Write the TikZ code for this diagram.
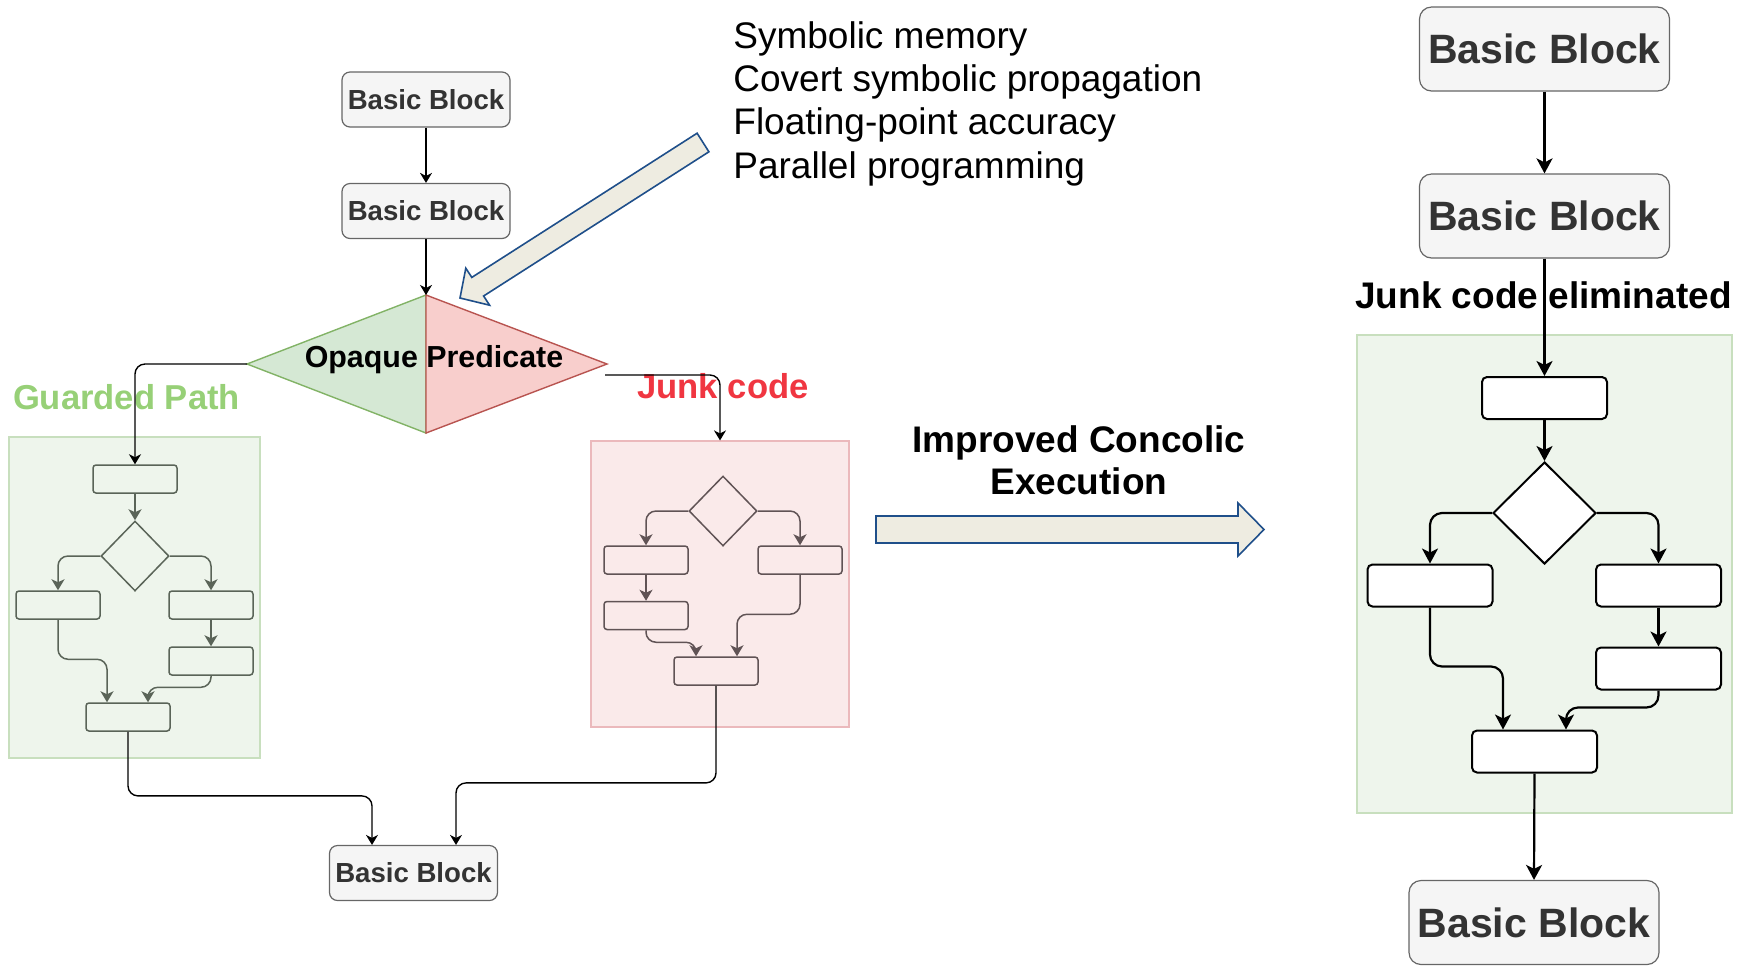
\documentclass[tikz,border=0pt]{standalone}
\usepackage{fontspec}
\setmainfont{Liberation Sans}
\usetikzlibrary{arrows.meta,shapes.geometric,calc}

\definecolor{bbfill}{HTML}{F5F5F5}
\definecolor{bbdraw}{HTML}{666666}
\definecolor{bbtext}{HTML}{333333}
\definecolor{okfill}{HTML}{D5E8D4}
\definecolor{okdraw}{HTML}{82B366}
\definecolor{badfill}{HTML}{F8CECC}
\definecolor{baddraw}{HTML}{B85450}
\definecolor{okpane}{HTML}{EEF5EC}
\definecolor{okpaneline}{HTML}{C8DFBE}
\definecolor{badpane}{HTML}{FAEAEA}
\definecolor{badpaneline}{HTML}{EBB9BC}
\definecolor{okink}{HTML}{5A6458}
\definecolor{badink}{HTML}{605355}
\definecolor{okword}{HTML}{97D077}
\definecolor{badword}{HTML}{F03641}
\definecolor{bigfill}{HTML}{EEECE1}
\definecolor{bigline}{HTML}{1F4F8A}

\begin{document}
\begin{tikzpicture}[x=0.5pt,y=-0.5pt,
  bbsmall/.style={rectangle, rounded corners=4pt, draw=bbdraw, line width=0.6pt,
    fill=bbfill, text=bbtext, minimum width=84pt, minimum height=27.5pt, inner sep=0pt,
    font=\fontsize{13.8}{16}\selectfont\bfseries},
  bbbig/.style={bbsmall, rounded corners=6pt, minimum width=125pt, minimum height=42pt,
    font=\fontsize{20.5}{24}\selectfont\bfseries},
  okbox/.style={rectangle, rounded corners=1.5pt, draw=okink, line width=0.75pt,
    minimum width=42pt, minimum height=14pt, inner sep=0pt},
  okdia/.style={diamond, draw=okink, line width=0.75pt, minimum width=34pt,
    minimum height=35pt, inner sep=0pt},
  badbox/.style={okbox, draw=badink},
  baddia/.style={okdia, draw=badink},
  wbox/.style={rectangle, rounded corners=2.5pt, draw=black, fill=white, line width=1pt,
    minimum width=62.5pt, minimum height=21pt, inner sep=0pt},
  wdia/.style={diamond, draw=black, fill=white, line width=1pt, minimum width=51.5pt,
    minimum height=51pt, inner sep=0pt},
  pane/.style={rectangle, inner sep=0pt, line width=0.6pt},
  conn/.style={draw=black, line width=0.7pt, rounded corners=5pt,
    -{Stealth[length=5pt,width=6pt,inset=1.5pt]}},
  okconn/.style={conn, draw=okink, line width=0.75pt,
    -{Stealth[length=5.5pt,width=6.5pt,inset=1.5pt]}},
  badconn/.style={okconn, draw=badink},
  wconn/.style={draw=black, line width=1.1pt, rounded corners=6pt,
    -{Stealth[length=7.5pt,width=8pt,inset=2pt]}},
  bigarrow/.style={draw=bigline, fill=bigfill, line width=0.8pt, line join=miter},
  txt/.style={inner sep=0pt},
  listfont/.style={font=\fontsize{18.5}{22}\selectfont},
  headfont/.style={font=\fontsize{18.5}{21}\selectfont\bfseries},
]
\useasboundingbox (0,0) rectangle (1746,966);

% ---------- containers ----------
\node[pane, fill=okpane, draw=okpaneline, minimum width=125.5pt, minimum height=160.5pt] (gc) at (134.5,597.5) {};
\node[pane, fill=badpane, draw=badpaneline, minimum width=129pt, minimum height=143pt] (jc) at (720,584) {};
\node[pane, fill=okpane, draw=okpaneline, minimum width=187.5pt, minimum height=239pt] (kc) at (1544.5,574) {};

% ---------- left: original control flow ----------
\node[bbsmall] (bb1) at (426,99.5) {Basic Block};
\node[bbsmall] (bb2) at (426,211) {Basic Block};
\node[bbsmall] (bb3) at (413.5,873) {Basic Block};

% opaque predicate, split into its two outcomes
\coordinate (opT) at (426,295);
\coordinate (opB) at (426,433);
\coordinate (opL) at (247,364);
\coordinate (opR) at (607,364);
\filldraw[fill=okfill, draw=okdraw, line width=0.7pt, line join=miter] (opT) -- (opL) -- (opB) -- cycle;
\filldraw[fill=badfill, draw=baddraw, line width=0.7pt, line join=miter] (opT) -- (opR) -- (opB) -- cycle;
\node[txt, anchor=base, font=\fontsize{15.2}{18}\selectfont\bfseries] (op) at (434,367) {Opaque Predicate};

\node[txt, anchor=base, text=okword, font=\fontsize{17.3}{20}\selectfont\bfseries] (gl) at (126.5,409) {Guarded Path};
\node[txt, anchor=base, text=badword, font=\fontsize{17.3}{20}\selectfont\bfseries] (jl) at (723,398) {Junk code};

% guarded path body
\node[okbox] (g1) at (135,479) {};
\node[okdia] (gd) at (135,556) {};
\node[okbox] (g2) at (58,605) {};
\node[okbox] (g3) at (211,605) {};
\node[okbox] (g4) at (211,661) {};
\node[okbox] (g5) at (128,717) {};

% junk code body
\node[baddia] (rd) at (723,511) {};
\node[badbox] (r1) at (646,560) {};
\node[badbox] (r2) at (800,560) {};
\node[badbox] (r3) at (646,615.5) {};
\node[badbox] (r4) at (716,671) {};

\coordinate (jstart) at (605,375);

\draw[conn] (bb1.south) -- (bb2.north);
\draw[conn] (bb2.south) -- (opT);
\draw[conn] (opL) -| (g1.north);
\draw[conn] (jstart) -| (jc.north);

\draw[okconn] (g1.south) -- (gd.north);
\draw[okconn] (gd.west) -| (g2.north);
\draw[okconn] (gd.east) -| (g3.north);
\draw[okconn] (g3.south) -- (g4.north);
\draw[okconn] (g2.south) |- ($(g5.north)+(-21,-43)$) -- ($(g5.north)+(-21,0)$);
\draw[okconn] (g4.south) |- ($(g5.north)+(20,-15)$) -- ($(g5.north)+(20,0)$);

\draw[badconn] (rd.west) -| (r1.north);
\draw[badconn] (rd.east) -| (r2.north);
\draw[badconn] (r1.south) -- (r3.north);
\draw[badconn] (r3.south) |- ($(r4.north)+(-20,-14)$) -- ($(r4.north)+(-20,0)$);
\draw[badconn] (r2.south) |- ($(r4.north)+(21,-42)$) -- ($(r4.north)+(21,0)$);

\draw[conn] (g5.south) |- ($(bb3.north)+(-41.5,-49)$) -- ($(bb3.north)+(-41.5,0)$);
\draw[conn] (r4.south) |- ($(bb3.north)+(42.5,-62)$) -- ($(bb3.north)+(42.5,0)$);

% ---------- analysis challenges ----------
\node[txt, anchor=base west, listfont] (l1) at (733,48) {Symbolic memory};
\node[txt, anchor=base west, listfont] (l2) at (733,91.4) {Covert symbolic propagation};
\node[txt, anchor=base west, listfont] (l3) at (733,134.8) {Floating-point accuracy};
\node[txt, anchor=base west, listfont] (l4) at (733,178.2) {Parallel programming};

\filldraw[bigarrow] (697.1,133.2) -- (471.8,277.4) -- (465.8,268.2) -- (460,298)
  -- (489.6,305.2) -- (483.6,296.0) -- (708.9,151.8) -- cycle;

% ---------- transformation ----------
\node[txt, anchor=base, headfont] (ic1) at (1079,452) {Improved Concolic};
\node[txt, anchor=base, headfont] (ic2) at (1079,494) {Execution};
\filldraw[bigarrow] (876,516) -- (1238,516) -- (1238,503) -- (1264,529.5)
  -- (1238,556) -- (1238,543) -- (876,543) -- cycle;

% ---------- right: simplified control flow ----------
\node[bbbig] (B1) at (1544.5,49) {Basic Block};
\node[bbbig] (B2) at (1544.5,216) {Basic Block};
\node[bbbig] (B3) at (1534,922.5) {Basic Block};
\node[txt, anchor=base, headfont] (je) at (1543.5,308) {Junk code eliminated};

\node[wbox] (k1) at (1544.5,398) {};
\node[wdia] (kd) at (1544.5,513) {};
\node[wbox] (k2) at (1430,585.5) {};
\node[wbox] (k3) at (1658.5,585.5) {};
\node[wbox] (k4) at (1658.5,668.5) {};
\node[wbox] (k5) at (1534.5,751.5) {};

\draw[wconn] (B1.south) -- (B2.north);
\draw[wconn] (B2.south) -- (k1.north);
\draw[wconn] (k1.south) -- (kd.north);
\draw[wconn] (kd.west) -| (k2.north);
\draw[wconn] (kd.east) -| (k3.north);
\draw[wconn] (k3.south) -- (k4.north);
\draw[wconn] (k2.south) |- ($(k5.north)+(-31.5,-63)$) -- ($(k5.north)+(-31.5,0)$);
\draw[wconn] (k4.south) |- ($(k5.north)+(31.5,-22)$) -- ($(k5.north)+(31.5,0)$);
\draw[wconn] (k5.south) -- (B3.north);
\end{tikzpicture}
\end{document}
